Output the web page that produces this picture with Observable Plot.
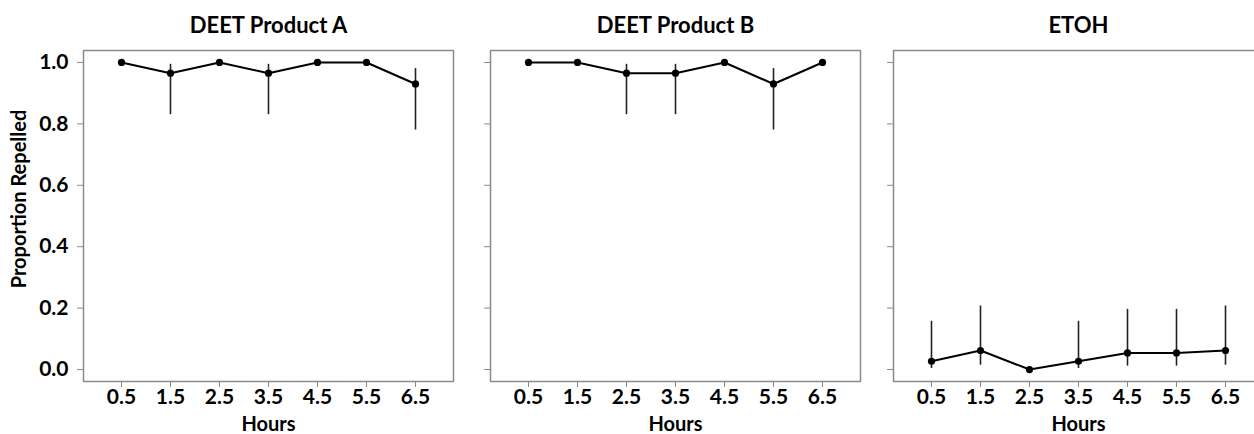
<!DOCTYPE html>
<html>
<head>
<meta charset="utf-8">
<script src="https://cdn.jsdelivr.net/npm/d3@7"></script>
<script src="https://cdn.jsdelivr.net/npm/@observablehq/plot@0.6"></script>
<style>
  html, body { margin: 0; padding: 0; background: #fff; overflow: hidden; }
  #wrap { position: relative; width: 1254px; height: 434px; overflow: hidden; font-family: Lato, "Open Sans", sans-serif; }
  .panel { position: absolute; top: 0; }
  .panel svg { overflow: visible; max-width: none !important; }
</style>
</head>
<body>
<div id="wrap"></div>
<script>
// ---- data ----
const hours = [0.5, 1.5, 2.5, 3.5, 4.5, 5.5, 6.5];
const panelTitles = ["DEET Product A", "DEET Product B", "ETOH"];
const yTicks = [0, 0.2, 0.4, 0.6, 0.8, 1.0];

const propA = [1.0, 0.965, 1.0, 0.965, 1.0, 1.0, 0.93];
const lowA  = [1.0, 0.83, 1.0, 0.83, 1.0, 1.0, 0.78];
const highA = [1.0, 0.994, 1.0, 0.994, 1.0, 1.0, 0.98];

const propB = [1.0, 1.0, 0.965, 0.965, 1.0, 0.93, 1.0];
const lowB  = [1.0, 1.0, 0.83, 0.83, 1.0, 0.78, 1.0];
const highB = [1.0, 1.0, 0.994, 0.994, 1.0, 0.98, 1.0];

const propC = [0.027, 0.062, 0.0, 0.027, 0.054, 0.054, 0.062];
const lowC  = [0.003, 0.014, 0.0, 0.003, 0.011, 0.011, 0.014];
const highC = [0.157, 0.207, 0.0, 0.157, 0.196, 0.196, 0.207];

const series = [
  {prop: propA, low: lowA, high: highA},
  {prop: propB, low: lowB, high: highB},
  {prop: propC, low: lowC, high: highC}
];

// ---- layout ----
const layout = [
  {left: 0,   width: 460, marginLeft: 83, marginRight: 7, yLabels: true},
  {left: 460, width: 405, marginLeft: 30, marginRight: 5, yLabels: false},
  {left: 865, width: 398, marginLeft: 28, marginRight: 0, yLabels: false}
];

const wrap = document.getElementById("wrap");
const fmt = d3.format(".1f");
const fontFamily = "Lato, 'Open Sans', sans-serif";

series.forEach((s, i) => {
  const L = layout[i];
  const rows = hours.map((h, j) => ({hour: h, prop: s.prop[j], low: s.low[j], high: s.high[j]}));
  const bars = rows.filter(d => d.high > d.low);
  const marks = [
    Plot.frame({stroke: "#8a8a8a", strokeWidth: 1.5}),
    Plot.axisX({ticks: hours, tickFormat: fmt, tickSize: 6, tickPadding: 2, stroke: "#8a8a8a", fill: "black",
                fontSize: 21, fontWeight: "bold", label: null}),
    Plot.axisY({ticks: yTicks, tickFormat: L.yLabels ? fmt : () => "", tickSize: 6, tickPadding: 9,
                stroke: "#8a8a8a", fill: "black", fontSize: 21, fontWeight: "bold", label: null}),
    Plot.ruleX(bars, {x: "hour", y1: "low", y2: "high", stroke: "#222", strokeWidth: 1.6}),
    Plot.line(rows, {x: "hour", y: "prop", stroke: "black", strokeWidth: 2}),
    Plot.dot(rows, {x: "hour", y: "prop", r: 3.6, fill: "black", stroke: "none"}),
    Plot.text([panelTitles[i]], {frameAnchor: "top", dy: -25, lineAnchor: "middle", textAnchor: "middle",
      text: d => d, fontSize: 22, fontWeight: "bold", fill: "black"}),
    Plot.text(["Hours"], {frameAnchor: "bottom", dy: 43, lineAnchor: "middle", textAnchor: "middle",
      text: d => d, fontSize: 20, fontWeight: "bold", fill: "black"})
  ];
  if (L.yLabels) {
    marks.push(Plot.text(["Proportion Repelled"], {frameAnchor: "left", dx: -64, dy: -17, rotate: -90,
      lineAnchor: "middle", textAnchor: "middle", text: d => d,
      fontSize: 20, fontWeight: "bold", fill: "black"}));
  }
  const chart = Plot.plot({
    width: L.width,
    height: 434,
    marginLeft: L.marginLeft,
    marginRight: L.marginRight,
    marginTop: 50,
    marginBottom: 53,
    x: {domain: [0.5 - 38/49, 6.5 + 38/49]},
    y: {domain: [-0.039, 1.039]},
    style: {fontFamily: fontFamily, fontSize: "21px", background: "white", overflow: "visible", maxWidth: "none"},
    marks
  });
  const div = document.createElement("div");
  div.className = "panel";
  div.style.left = L.left + "px";
  div.style.width = L.width + "px";
  div.appendChild(chart);
  wrap.appendChild(div);
});
</script>
</body>
</html>
